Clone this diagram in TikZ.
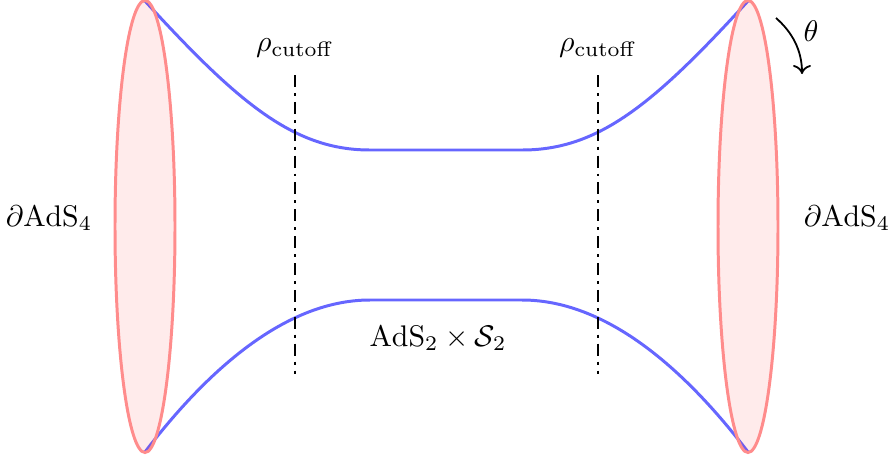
\documentclass[tikz,border=0pt]{standalone}
\usetikzlibrary{arrows.meta}
\begin{document}
\begin{tikzpicture}[x=0.335pt,y=-0.335pt,
  brane/.style={blue!60,line width=1pt},
  bdry/.style={draw=red!45,line width=1pt,fill=red,fill opacity=0.08},
  cut/.style={black,line width=0.6pt,dash pattern=on 4pt off 2pt on 1pt off 2pt},
  lbl/.style={inner sep=0pt}]
\useasboundingbox (0,0) rectangle (889,463);
% blue curves
\coordinate (tl) at (145,1);
\coordinate (tm1) at (370,150);
\coordinate (tm2) at (522,150);
\coordinate (tr) at (748,1);
\coordinate (bl) at (145,452);
\coordinate (bm1) at (370,300);
\coordinate (bm2) at (522,300);
\coordinate (br) at (748,452);
\draw[brane] (tl) .. controls (240,105) and (295,150) .. (tm1) -- (tm2) .. controls (598,150) and (653,105) .. (tr);
\draw[brane] (bl) .. controls (200,380) and (280,300) .. (bm1) -- (bm2) .. controls (613,300) and (693,380) .. (br);
% boundaries
\draw[bdry] (145,226.5) ellipse [x radius=30, y radius=226];
\draw[bdry] (748,226.5) ellipse [x radius=30, y radius=226];
% cutoffs
\coordinate (c1t) at (295,75); \coordinate (c1b) at (295,374);
\coordinate (c2t) at (598,75); \coordinate (c2b) at (598,374);
\draw[cut] (c1t) -- (c1b);
\draw[cut] (c2t) -- (c2b);
\node[lbl] (r1) at (295,48) {$\rho_{\mathrm{cutoff}}$};
\node[lbl] (r2) at (598,48) {$\rho_{\mathrm{cutoff}}$};
\node[lbl] (dl) at (49,218) {$\partial\mathrm{AdS}_4$};
\node[lbl] (dr) at (847,218) {$\partial\mathrm{AdS}_4$};
\node[lbl] (ads) at (438,338) {$\mathrm{AdS}_2\times\mathcal{S}_2$};
% theta
\coordinate (th1) at (776,18);
\coordinate (th2) at (802,74);
\draw[black,line width=0.6pt,-{To[length=3pt,width=6pt]}] (th1) .. controls (792,32) and (802,50) .. (th2);
\node[lbl] (th) at (811,31) {$\theta$};
\end{tikzpicture}
\end{document}
